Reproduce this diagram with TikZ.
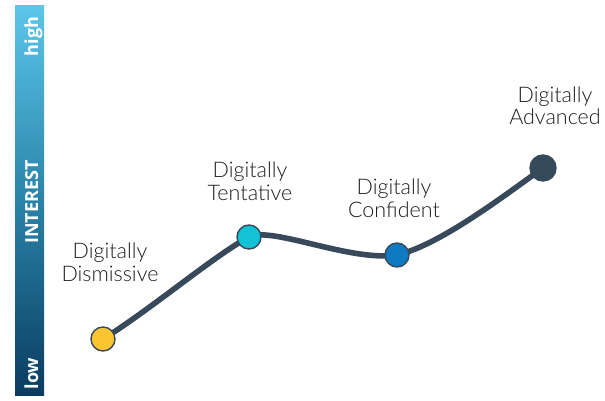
\documentclass[tikz,border=0pt]{standalone}
\usepackage{fontspec}
\setmainfont{Open Sans}
\newfontfamily\stagefont{Lato Light}
\begin{document}
\definecolor{curveclr}{HTML}{37495A}
\definecolor{labelclr}{HTML}{1E1E1E}
\definecolor{barTop}{HTML}{5BC6E9}
\definecolor{barMid}{HTML}{2A83A9}
\definecolor{barBot}{HTML}{0A3C60}
\definecolor{stageA}{HTML}{FBC531}
\definecolor{stageB}{HTML}{12C3D5}
\definecolor{stageC}{HTML}{0E7BC0}
\definecolor{stageD}{HTML}{364A5A}
\begin{tikzpicture}[x=1pt,y=-1pt,
  stage/.style={circle,draw=curveclr,line width=1.4pt,minimum size=24pt,inner sep=0pt},
  stagelabel/.style={align=center,anchor=base,text=labelclr,font=\stagefont\fontsize{21.5}{22.5}\selectfont,inner sep=0pt},
  axislabel/.style={rotate=90,anchor=base,text=white,font=\bfseries\fontsize{18}{20}\selectfont,inner sep=0pt}]
\useasboundingbox (0,0) rectangle (605,401);
% interest bar
\shade[top color=barTop,bottom color=barBot,middle color=barMid] (15,6) rectangle (44,395);
\node[axislabel] (high) at (38,36.5) {high};
\node[axislabel] (interest) at (38,202) {INTEREST};
\node[axislabel] (low) at (38,373.5) {low};
% stages along the curve
\coordinate (pA) at (103,339);
\coordinate (pB) at (249,237);
\coordinate (pC) at (397,255);
\coordinate (pD) at (543,168);
\draw[curveclr,line width=5.6pt,line cap=round]
  (pA) .. controls (150,310) and (215,255) .. (pB)
       .. controls (272,226) and (350,262) .. (pC)
       .. controls (440,245) and (505,195) .. (pD);
\node[stage,fill=stageA] (dismissive) at (pA) {};
\node[stage,fill=stageB] (tentative) at (pB) {};
\node[stage,fill=stageC] (confident) at (pC) {};
\node[stage,fill=stageD,minimum size=26pt] (advanced) at (pD) {};
% labels (anchored on the baseline of their last line)
\node[stagelabel] (ldis) at (110,281) {Digitally\\Dismissive};
\node[stagelabel] (lten) at (250,200) {Digitally\\Tentative};
\node[stagelabel] (lcon) at (394,217) {Digitally\\Confident};
\node[stagelabel] (ladv) at (555,125) {Digitally\\Advanced};
\end{tikzpicture}
\end{document}
